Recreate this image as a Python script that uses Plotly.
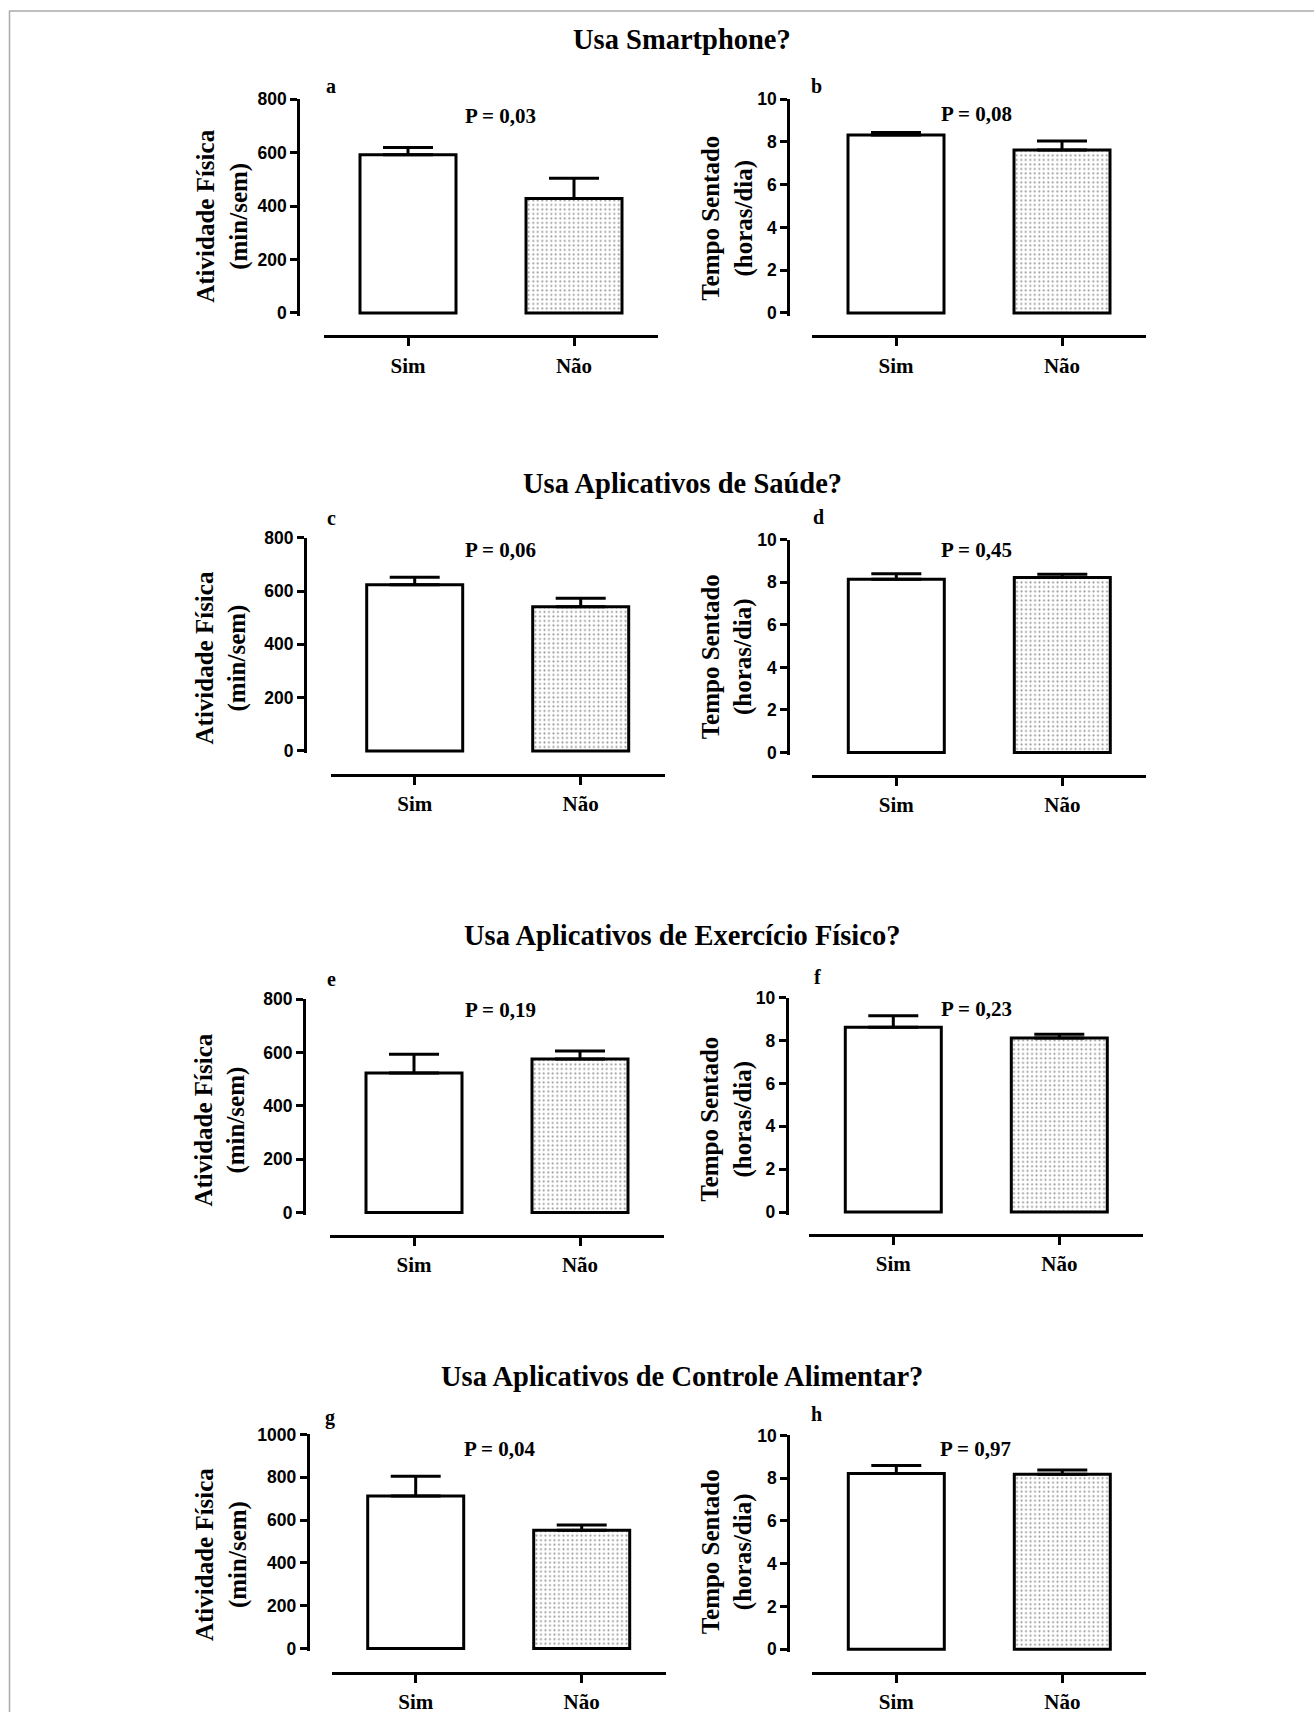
import plotly.graph_objects as go

# ---------------- data ----------------
categories = ["Sim", "Não"]
section_titles = ["Usa Smartphone?", "Usa Aplicativos de Saúde?",
                  "Usa Aplicativos de Exercício Físico?", "Usa Aplicativos de Controle Alimentar?"]
panel_letters = ["a", "b", "c", "d", "e", "f", "g", "h"]
p_values = ["P = 0,03", "P = 0,08", "P = 0,06", "P = 0,45",
            "P = 0,19", "P = 0,23", "P = 0,04", "P = 0,97"]

# Atividade Física (min/sem): panels a, c, e, g
af_means = [[592, 428], [624, 541], [523, 576], [712, 552]]
af_sem = [[27, 76], [28, 32], [71, 30], [93, 25]]
af_top = [800, 800, 800, 1000]
af_ticks = [[0, 200, 400, 600, 800], [0, 200, 400, 600, 800],
            [0, 200, 400, 600, 800], [0, 200, 400, 600, 800, 1000]]

# Tempo Sentado (horas/dia): panels b, d, f, h
ts_means = [[8.32, 7.62], [8.14, 8.22], [8.62, 8.12], [8.22, 8.19]]
ts_sem = [[0.12, 0.42], [0.26, 0.16], [0.54, 0.17], [0.38, 0.19]]
ts_top = [10, 10, 10, 10]
ts_ticks = [[0, 2, 4, 6, 8, 10]] * 4

af_title = "Atividade Física<br>(min/sem)"
ts_title = "Tempo Sentado<br>(horas/dia)"

# ---------------- layout geometry (pixels) ----------------
W, H = 1314, 1720
# per panel: y-axis x, x-axis line start, x-axis line y, y of value 0, y of top value
geom = [
    (298.3, 324.0, 335.7, 312.3, 98.3),
    (788.3, 812.0, 335.7, 312.3, 98.3),
    (305.0, 330.7, 775.0, 750.7, 537.3),
    (788.3, 812.3, 776.0, 752.3, 539.3),
    (304.0, 330.0, 1236.0, 1212.7, 999.3),
    (786.7, 809.3, 1235.0, 1212.3, 997.7),
    (307.7, 331.7, 1674.0, 1649.3, 1435.0),
    (788.3, 812.3, 1674.0, 1650.0, 1436.0),
]
title_pos = [(222.5, 215.5), (727.5, 217.5), (221.7, 657.5), (727.0, 657.0),
             (220.8, 1120.0), (727.0, 1120.0), (221.7, 1555.0), (727.5, 1552.5)]
letter_pos = [(330.7, 85), (816.7, 85), (331.7, 518), (818.3, 517),
              (331.0, 979), (817.7, 977), (330.0, 1418), (816.7, 1415)]
p_pos = [(500, 115), (976.7, 113.3), (500, 550), (976, 549.3),
         (500, 1010), (976, 1009.3), (499, 1450), (975.5, 1449.3)]
section_y = [38.4, 482.6, 935.6, 1376.6]
section_x = 682

CAT_PX = 166.0
HALF = 0.506
BAR_W = 96.0 / CAT_PX

SERIF = "Liberation Serif, Times New Roman, serif"
SANS = "Liberation Sans, Arial, sans-serif"

# page-capture compensation (observed vertical offset / scale of the photographed page)
Y_OFF, Y_SCALE = 9.0, 0.9906


def px_x(x):
    return x / W


def px_y(y):
    yf = (y - Y_OFF) / Y_SCALE
    return 1 - yf / H


def b(t):
    return f"<b>{t}</b>"


fig = go.Figure()
layout_axes = {}
annotations = []

for i in range(8):
    col = i % 2
    row = i // 2
    if col == 0:
        means, sems, top, ticks, ytitle = af_means[row], af_sem[row], af_top[row], af_ticks[row], af_title
    else:
        means, sems, top, ticks, ytitle = ts_means[row], ts_sem[row], ts_top[row], ts_ticks[row], ts_title
    yax_x, xstart, xline_y, y0, ytop = geom[i]
    xend = xstart + CAT_PX * (2 * HALF + 1)
    pad = top * 0.012
    ppu = (y0 - ytop) / top
    ybot_px = y0 + pad * ppu

    xa = "x" if i == 0 else f"x{i+1}"
    ya = "y" if i == 0 else f"y{i+1}"

    fig.add_trace(go.Bar(
        x=categories, y=means, xaxis=xa, yaxis=ya, width=BAR_W,
        marker=dict(color="white", line=dict(color="black", width=3),
                    pattern=dict(shape=["", "."], fgcolor="#333333", bgcolor="white",
                                 size=4.5, solidity=0.16)),
        error_y=dict(type="data", symmetric=False, array=sems, arrayminus=[0, 0],
                     color="black", thickness=3, width=25),
        showlegend=False, hoverinfo="skip",
    ))

    kx = "xaxis" if i == 0 else f"xaxis{i+1}"
    ky = "yaxis" if i == 0 else f"yaxis{i+1}"
    layout_axes[kx] = dict(
        domain=[px_x(xstart), px_x(xend)], anchor="free", position=px_y(xline_y),
        type="category", range=[-HALF, 1 + HALF],
        tickvals=categories, ticktext=[b(c) for c in categories],
        showline=True, linecolor="black", linewidth=3,
        ticks="outside", ticklen=8, tickwidth=3, tickcolor="black",
        showgrid=False, zeroline=False, fixedrange=True,
        tickfont=dict(family=SERIF, size=21, color="black"),
        ticklabelstandoff=1,
    )
    layout_axes[ky] = dict(
        domain=[px_y(ybot_px), px_y(ytop)], anchor="free", position=px_x(yax_x),
        range=[-pad, top], tickvals=ticks, ticktext=[b(t) for t in ticks],
        showline=True, linecolor="black", linewidth=3,
        ticks="outside", ticklen=7, tickwidth=3, tickcolor="black",
        showgrid=False, zeroline=False, fixedrange=True,
        tickfont=dict(family=SANS, size=17.5, color="black"),
        ticklabelstandoff=0,
    )

    tx, ty = title_pos[i]
    annotations.append(dict(
        text=b(ytitle.replace("<br>", "</b><br><b>")), x=px_x(tx), y=px_y(ty),
        xref="paper", yref="paper",
        textangle=-90, showarrow=False, xanchor="center", yanchor="middle", align="center",
        font=dict(family=SERIF, size=25, color="black")))
    lx, ly = letter_pos[i]
    annotations.append(dict(
        text=b(panel_letters[i]), x=px_x(lx), y=px_y(ly), xref="paper", yref="paper",
        showarrow=False, xanchor="center", yanchor="middle",
        font=dict(family=SERIF, size=20, color="black")))
    qx, qy = p_pos[i]
    annotations.append(dict(
        text=b(p_values[i]), x=px_x(qx), y=px_y(qy), xref="paper", yref="paper",
        showarrow=False, xanchor="center", yanchor="middle",
        font=dict(family=SERIF, size=21, color="black")))

for k, t in enumerate(section_titles):
    annotations.append(dict(
        text=b(t), x=px_x(section_x), y=px_y(section_y[k]), xref="paper", yref="paper",
        showarrow=False, xanchor="center", yanchor="middle",
        font=dict(family=SERIF, size=28.5, color="black")))

shapes = [
    dict(type="line", xref="paper", yref="paper", x0=px_x(9), x1=1, y0=px_y(10), y1=px_y(10),
         line=dict(color="#aaaaaa", width=1.5)),
    dict(type="line", xref="paper", yref="paper", x0=px_x(9.5), x1=px_x(9.5), y0=px_y(10), y1=0,
         line=dict(color="#aaaaaa", width=1.5)),
]

fig.update_layout(
    width=W, height=H, margin=dict(l=0, r=0, t=0, b=0),
    paper_bgcolor="white", plot_bgcolor="rgba(0,0,0,0)",
    annotations=annotations, shapes=shapes, showlegend=False,
    **layout_axes,
)

fig.write_html(
    "out.html",
    config={"displayModeBar": False},
    post_script=(
        "document.body.style.margin='0';"
        "var d=document.getElementById('{plot_id}');"
        "d.style.position='absolute';d.style.left='0px';d.style.top='0px';"
    ),
)
